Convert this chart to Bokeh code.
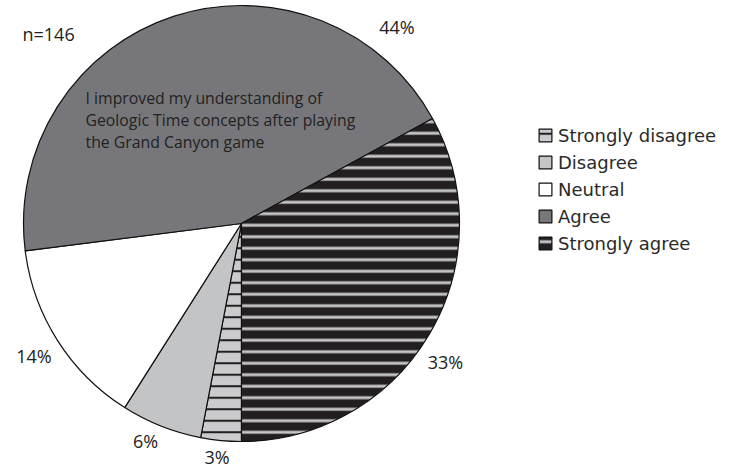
import math

from bokeh.plotting import figure
from bokeh.models import Range1d, Legend, LegendItem
from bokeh.core.properties import value
from bokeh.embed import file_html
from bokeh.resources import INLINE

# Survey responses (percent of respondents)
categories = ["Strongly disagree", "Disagree", "Neutral", "Agree", "Strongly agree"]
percents = [3, 6, 14, 44, 33]
sample_size = 146
statement_lines = [
    "I improved my understanding of",
    "Geologic Time concepts after playing",
    "the Grand Canyon game",
]

# Slice styling
fills = ["#cbcbcd", "#c3c4c6", "#ffffff", "#77777b", "#231f20"]
hatches = ["horizontal_line", "blank", "blank", "blank", "horizontal_line"]
hatch_colors = ["#1e1e1e", "#000000", "#000000", "#000000", "#c4c4c6"]
hatch_weights = [2, 1, 1, 1, 3]

# Canvas and pie geometry (pixels, y measured upward)
W, H = 735, 471
CX, CY, R = 241, H - 223, 218

# Percentage label anchors (pixel positions, y measured downward)
label_pos = [(216.5, 456.5), (145, 440), (33.5, 355), (396.5, 26.5), (445, 361.5)]

p = figure(
    width=W, height=H,
    x_range=Range1d(0, W), y_range=Range1d(0, H),
    x_axis_location=None, y_axis_location=None,
    output_backend="svg", toolbar_location=None,
    min_border=0, outline_line_color=None,
    background_fill_color="white", border_fill_color="white",
)
p.grid.visible = False

# Slices run clockwise from the 6 o'clock position
items = []
start = -90.0
for cat, pct, fc, hp, hc, hw in zip(categories, percents, fills, hatches, hatch_colors, hatch_weights):
    end = start - pct * 3.6
    r = p.wedge(
        x=CX, y=CY, radius=R,
        start_angle=math.radians(start), end_angle=math.radians(end),
        direction="clock",
        fill_color=fc, line_color="#111111", line_width=1.2,
        hatch_pattern=hp, hatch_color=hc, hatch_weight=hw, hatch_scale=11.5,
    )
    items.append(LegendItem(label=cat, renderers=[r]))
    start = end

# Percentage labels
p.text(
    x=[x for x, _ in label_pos], y=[H - y for _, y in label_pos],
    text=[f"{v}%" for v in percents],
    text_font=value("Open Sans"), text_font_size="18px", text_color="#222222",
    text_align="center", text_baseline="middle",
)

# Sample size
p.text(
    x=[22], y=[H - 33.5], text=[f"n={sample_size}"],
    text_font=value("Open Sans"), text_font_size="18px", text_color="#222222",
    text_align="left", text_baseline="middle",
)

# Survey statement inside the Agree slice
p.text(
    x=[85] * len(statement_lines),
    y=[H - (97 + 22 * i) for i in range(len(statement_lines))],
    text=statement_lines,
    text_font=value("Open Sans"), text_font_size="15.8px", text_color="#222222",
    text_align="left", text_baseline="middle",
)

legend = Legend(
    items=items,
    location=(537, H - 253.5),
    glyph_width=16, glyph_height=16, label_height=16,
    spacing=6, padding=0, margin=0, label_standoff=5,
    label_text_font="DejaVu Sans", label_text_font_size="18px",
    label_text_color="#2a2a2a",
    border_line_color=None, background_fill_alpha=0,
)
p.add_layout(legend)

open("out.html", "w").write(file_html(p, INLINE))
